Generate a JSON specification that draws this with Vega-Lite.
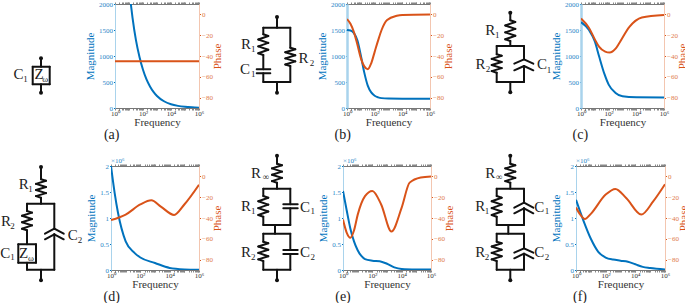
{
"$schema":"https://vega.github.io/schema/vega-lite/v6.json",
"padding":0,
"background":"white",
"config":{"view":{"stroke":null},"font":"Liberation Serif","concat":{"spacing":0}},
"datasets":{
"mag_a":[{"f":13.5,"magnitude":2000},{"f":17.8,"magnitude":1740},{"f":31.6,"magnitude":1300},{"f":56.2,"magnitude":980},{"f":100,"magnitude":735},{"f":178,"magnitude":550},{"f":316,"magnitude":415},{"f":562,"magnitude":310},{"f":1000,"magnitude":232},{"f":3160,"magnitude":130},{"f":10000,"magnitude":73},{"f":31600,"magnitude":41},{"f":100000,"magnitude":23},{"f":316000,"magnitude":13},{"f":1000000,"magnitude":7}],
"ph_a":[{"f":1,"phase":-45},{"f":1000,"phase":-45},{"f":1000000,"phase":-45}],
"mag_b":[{"f":1,"magnitude":1500},{"f":1.78,"magnitude":1490},{"f":3.16,"magnitude":1440},{"f":5.62,"magnitude":1300},{"f":10,"magnitude":1010},{"f":17.8,"magnitude":680},{"f":31.6,"magnitude":430},{"f":56.2,"magnitude":300},{"f":100,"magnitude":235},{"f":178,"magnitude":205},{"f":316,"magnitude":190},{"f":1000,"magnitude":182},{"f":10000,"magnitude":180},{"f":1000000,"magnitude":180}],
"ph_b":[{"f":1,"phase":-4.5},{"f":1.78,"phase":-9},{"f":3.16,"phase":-17},{"f":5.62,"phase":-29},{"f":10,"phase":-42},{"f":17.8,"phase":-50},{"f":31.6,"phase":-52.7},{"f":56.2,"phase":-47},{"f":100,"phase":-36},{"f":178,"phase":-25},{"f":316,"phase":-15},{"f":794,"phase":-5.4},{"f":3980,"phase":-1.3},{"f":10000,"phase":-0.5},{"f":1000000,"phase":0}],
"mag_c":[{"f":1,"magnitude":1650},{"f":3.8,"magnitude":1500},{"f":10,"magnitude":1280},{"f":20,"magnitude":1000},{"f":50,"magnitude":650},{"f":100,"magnitude":450},{"f":316,"magnitude":290},{"f":1000,"magnitude":225},{"f":10000,"magnitude":205},{"f":1000000,"magnitude":200}],
"ph_c":[{"f":1,"phase":-4},{"f":3.8,"phase":-13},{"f":10,"phase":-24},{"f":20,"phase":-31},{"f":56,"phase":-35.8},{"f":117,"phase":-36.7},{"f":316,"phase":-33},{"f":562,"phase":-28},{"f":3160,"phase":-12},{"f":25000,"phase":-3},{"f":1000000,"phase":-0.5}],
"mag_d":[{"f":1,"magnitude":2.0},{"f":1.78,"magnitude":1.48},{"f":3,"magnitude":1.1},{"f":10,"magnitude":0.55},{"f":40,"magnitude":0.33},{"f":100,"magnitude":0.24},{"f":1000,"magnitude":0.135},{"f":10000,"magnitude":0.04},{"f":100000,"magnitude":0.012},{"f":1000000,"magnitude":0.005}],
"ph_d":[{"f":1,"phase":-42},{"f":10,"phase":-36.7},{"f":100,"phase":-27},{"f":562,"phase":-23},{"f":2500,"phase":-29},{"f":20000,"phase":-37},{"f":100000,"phase":-27},{"f":1000000,"phase":-8}],
"mag_e":[{"f":1,"magnitude":1.52},{"f":1.78,"magnitude":1.15},{"f":3.16,"magnitude":0.8},{"f":5.62,"magnitude":0.55},{"f":10,"magnitude":0.38},{"f":17.8,"magnitude":0.27},{"f":31.6,"magnitude":0.21},{"f":100,"magnitude":0.18},{"f":316,"magnitude":0.17},{"f":1000,"magnitude":0.12},{"f":3160,"magnitude":0.05},{"f":10000,"magnitude":0.02},{"f":100000,"magnitude":0.01},{"f":1000000,"magnitude":0.008}],
"ph_e":[{"f":1,"phase":-41.5},{"f":1.78,"phase":-54},{"f":3.16,"phase":-59},{"f":5.62,"phase":-52},{"f":10,"phase":-37},{"f":31.6,"phase":-19},{"f":100,"phase":-14},{"f":400,"phase":-27},{"f":2000,"phase":-53},{"f":10000,"phase":-30},{"f":35000,"phase":-6},{"f":200000,"phase":-1},{"f":1000000,"phase":0}],
"mag_f":[{"f":1,"magnitude":1.35},{"f":3.16,"magnitude":0.95},{"f":10,"magnitude":0.6},{"f":31.6,"magnitude":0.35},{"f":100,"magnitude":0.24},{"f":316,"magnitude":0.2},{"f":1000,"magnitude":0.18},{"f":3160,"magnitude":0.16},{"f":10000,"magnitude":0.11},{"f":31600,"magnitude":0.06},{"f":100000,"magnitude":0.04},{"f":1000000,"magnitude":0.01}],
"ph_f":[{"f":1,"phase":-30},{"f":1.78,"phase":-36},{"f":4,"phase":-41},{"f":10,"phase":-36},{"f":100,"phase":-17.5},{"f":450,"phase":-12},{"f":2500,"phase":-21},{"f":25000,"phase":-36.7},{"f":160000,"phase":-24},{"f":1000000,"phase":-7.5}],
"wires_a":[{"x":40,"y":57.3,"x2":40,"y2":65.7},{"x":40,"y":83.3,"x2":40,"y2":91.7},{"x":31.7,"y":65.7,"x2":48.7,"y2":65.7},{"x":31.7,"y":83.3,"x2":48.7,"y2":83.3},{"x":31.7,"y":65.7,"x2":31.7,"y2":83.3},{"x":48.7,"y":65.7,"x2":48.7,"y2":83.3}],
"dots_a":[{"x":40,"y":57.3},{"x":40,"y":91.7}],
"labels_a":[{"x":17.5,"y":72.5,"text":"C","kind":"main"},{"x":24.5,"y":77.5,"text":"1","kind":"sub"},{"x":38,"y":73,"text":"Z","kind":"main"},{"x":44.3,"y":78,"text":"ω","kind":"sub"},{"x":110.7,"y":134,"text":"(a)","kind":"caption"}],
"wires_b":[{"x":276,"y":16,"x2":276,"y2":26.7},{"x":262.3,"y":26.7,"x2":289.3,"y2":26.7},{"x":262.3,"y":26.7,"x2":262.3,"y2":33.3},
{"x":262.3,"y":33.3,"x2":267.3,"y2":35},{"x":267.3,"y":35,"x2":257.3,"y2":38.5},{"x":257.3,"y":38.5,"x2":267.3,"y2":41.9},{"x":267.3,"y":41.9,"x2":257.3,"y2":45.4},{"x":257.3,"y":45.4,"x2":267.3,"y2":48.8},{"x":267.3,"y":48.8,"x2":257.3,"y2":52.3},{"x":257.3,"y":52.3,"x2":262.3,"y2":54},
{"x":262.3,"y":54,"x2":262.3,"y2":68.3},{"x":255.7,"y":68.3,"x2":269.3,"y2":68.3},{"x":255.7,"y":72.3,"x2":269.3,"y2":72.3},{"x":262.3,"y":72.3,"x2":262.3,"y2":81},{"x":289.3,"y":26.7,"x2":289.3,"y2":46.7},
{"x":289.3,"y":46.7,"x2":294.3,"y2":48.2},{"x":294.3,"y":48.2,"x2":284.3,"y2":51.3},{"x":284.3,"y":51.3,"x2":294.3,"y2":54.3},{"x":294.3,"y":54.3,"x2":284.3,"y2":57.4},{"x":284.3,"y":57.4,"x2":294.3,"y2":60.4},{"x":294.3,"y":60.4,"x2":284.3,"y2":63.5},{"x":284.3,"y":63.5,"x2":289.3,"y2":65},
{"x":289.3,"y":65,"x2":289.3,"y2":81},{"x":262.3,"y":81,"x2":289.3,"y2":81},{"x":276,"y":81,"x2":276,"y2":91.7}],
"dots_b":[{"x":276,"y":16},{"x":276,"y":91.7}],
"labels_b":[{"x":245,"y":43,"text":"R","kind":"main"},{"x":252.3,"y":48,"text":"1","kind":"sub"},{"x":302.5,"y":57,"text":"R","kind":"main"},{"x":311,"y":62,"text":"2","kind":"sub"},{"x":244,"y":68,"text":"C","kind":"main"},{"x":252.3,"y":73,"text":"1","kind":"sub"},{"x":341.7,"y":134,"text":"(b)","kind":"caption"}],
"wires_c":[{"x":509.3,"y":11.7,"x2":509.3,"y2":19.3},
{"x":509.3,"y":19.3,"x2":514.3,"y2":21},{"x":514.3,"y":21,"x2":504.3,"y2":24.5},{"x":504.3,"y":24.5,"x2":514.3,"y2":27.9},{"x":514.3,"y":27.9,"x2":504.3,"y2":31.4},{"x":504.3,"y":31.4,"x2":514.3,"y2":34.8},{"x":514.3,"y":34.8,"x2":504.3,"y2":38.3},{"x":504.3,"y":38.3,"x2":509.3,"y2":40},
{"x":509.3,"y":40,"x2":509.3,"y2":45},{"x":495.7,"y":45,"x2":523,"y2":45},{"x":495.7,"y":45,"x2":495.7,"y2":53.3},
{"x":495.7,"y":53.3,"x2":500.7,"y2":54.8},{"x":500.7,"y":54.8,"x2":490.7,"y2":57.9},{"x":490.7,"y":57.9,"x2":500.7,"y2":61},{"x":500.7,"y":61,"x2":490.7,"y2":64},{"x":490.7,"y":64,"x2":500.7,"y2":67.1},{"x":500.7,"y":67.1,"x2":490.7,"y2":70.1},{"x":490.7,"y":70.1,"x2":495.7,"y2":71.7},
{"x":495.7,"y":71.7,"x2":495.7,"y2":81},{"x":523,"y":45,"x2":523,"y2":58.3},{"x":513.3,"y":62.7,"x2":523,"y2":58.3},{"x":523,"y":58.3,"x2":532.3,"y2":62.7},{"x":513.3,"y":69.3,"x2":523,"y2":65},{"x":523,"y":65,"x2":532.3,"y2":69.3},{"x":523,"y":65,"x2":523,"y2":81},{"x":495.7,"y":81,"x2":523,"y2":81},{"x":509.3,"y":81,"x2":509.3,"y2":91.3}],
"dots_c":[{"x":509.3,"y":11.7},{"x":509.3,"y":91.3}],
"labels_c":[{"x":489.3,"y":29,"text":"R","kind":"main"},{"x":496.3,"y":33.5,"text":"1","kind":"sub"},{"x":479.5,"y":62.5,"text":"R","kind":"main"},{"x":487,"y":68,"text":"2","kind":"sub"},{"x":541,"y":63,"text":"C","kind":"main"},{"x":548,"y":68.5,"text":"1","kind":"sub"},{"x":579.3,"y":134,"text":"(c)","kind":"caption"}],
"wires_d":[{"x":40,"y":166,"x2":40,"y2":178.3},
{"x":40,"y":178.3,"x2":45,"y2":179.8},{"x":45,"y":179.8,"x2":35,"y2":182.9},{"x":35,"y":182.9,"x2":45,"y2":186},{"x":45,"y":186,"x2":35,"y2":189},{"x":35,"y":189,"x2":45,"y2":192.1},{"x":45,"y":192.1,"x2":35,"y2":195.1},{"x":35,"y":195.1,"x2":40,"y2":196.7},
{"x":40,"y":196.7,"x2":40,"y2":202.7},{"x":26,"y":202.7,"x2":53.3,"y2":202.7},{"x":26,"y":202.7,"x2":26,"y2":210},
{"x":26,"y":210,"x2":31,"y2":211.6},{"x":31,"y":211.6,"x2":21,"y2":214.8},{"x":21,"y":214.8,"x2":31,"y2":218},{"x":31,"y":218,"x2":21,"y2":221.2},{"x":21,"y":221.2,"x2":31,"y2":224.4},{"x":31,"y":224.4,"x2":21,"y2":227.7},{"x":21,"y":227.7,"x2":26,"y2":229.3},
{"x":26,"y":229.3,"x2":26,"y2":243.3},{"x":17.3,"y":243.3,"x2":35,"y2":243.3},{"x":17.3,"y":261.7,"x2":35,"y2":261.7},{"x":17.3,"y":243.3,"x2":17.3,"y2":261.7},{"x":35,"y":243.3,"x2":35,"y2":261.7},{"x":26,"y":261.7,"x2":26,"y2":268.7},
{"x":53.3,"y":202.7,"x2":53.3,"y2":227.7},{"x":44,"y":232.7,"x2":53.3,"y2":227.7},{"x":53.3,"y":227.7,"x2":62.7,"y2":232.7},{"x":44,"y":238.3,"x2":53.3,"y2":233.3},{"x":53.3,"y":233.3,"x2":62.7,"y2":238.3},{"x":53.3,"y":233.3,"x2":53.3,"y2":268.7},{"x":26,"y":268.7,"x2":53.3,"y2":268.7},{"x":40,"y":268.7,"x2":40,"y2":279.3}],
"dots_d":[{"x":40,"y":166},{"x":40,"y":279.3}],
"labels_d":[{"x":22.7,"y":183,"text":"R","kind":"main"},{"x":29.5,"y":188,"text":"1","kind":"sub"},{"x":5,"y":220,"text":"R","kind":"main"},{"x":11.5,"y":225,"text":"2","kind":"sub"},{"x":4.3,"y":251.5,"text":"C","kind":"main"},{"x":11.5,"y":255.5,"text":"1","kind":"sub"},{"x":71.7,"y":234,"text":"C","kind":"main"},{"x":79,"y":239,"text":"2","kind":"sub"},{"x":22.7,"y":251.5,"text":"Z","kind":"main"},{"x":30,"y":256.5,"text":"ω","kind":"sub"},{"x":110.7,"y":295.7,"text":"(d)","kind":"caption"}],
"wires_e":[{"x":276,"y":154.7,"x2":276,"y2":162.7},
{"x":276,"y":162.7,"x2":281,"y2":164.3},{"x":281,"y":164.3,"x2":271,"y2":167.4},{"x":271,"y":167.4,"x2":281,"y2":170.6},{"x":281,"y":170.6,"x2":271,"y2":173.8},{"x":271,"y":173.8,"x2":281,"y2":176.9},{"x":281,"y":176.9,"x2":271,"y2":180.1},{"x":271,"y":180.1,"x2":276,"y2":181.7},
{"x":276,"y":181.7,"x2":276,"y2":187.7},{"x":262.3,"y":187.7,"x2":289.3,"y2":187.7},{"x":262.3,"y":187.7,"x2":262.3,"y2":195},
{"x":262.3,"y":195,"x2":267.3,"y2":196.7},{"x":267.3,"y":196.7,"x2":257.3,"y2":200.2},{"x":257.3,"y":200.2,"x2":267.3,"y2":203.6},{"x":267.3,"y":203.6,"x2":257.3,"y2":207.1},{"x":257.3,"y":207.1,"x2":267.3,"y2":210.5},{"x":267.3,"y":210.5,"x2":257.3,"y2":214},{"x":257.3,"y":214,"x2":262.3,"y2":215.7},
{"x":262.3,"y":215.7,"x2":262.3,"y2":224},{"x":289.3,"y":187.7,"x2":289.3,"y2":203.3},{"x":282.3,"y":203.3,"x2":296.7,"y2":203.3},{"x":282.3,"y":207.3,"x2":296.7,"y2":207.3},{"x":289.3,"y":207.3,"x2":289.3,"y2":224},{"x":262.3,"y":224,"x2":289.3,"y2":224},{"x":274,"y":224,"x2":274,"y2":232.7},{"x":262.3,"y":232.7,"x2":289.3,"y2":232.7},{"x":262.3,"y":232.7,"x2":262.3,"y2":240.7},
{"x":262.3,"y":240.7,"x2":267.3,"y2":242.3},{"x":267.3,"y":242.3,"x2":257.3,"y2":245.5},{"x":257.3,"y":245.5,"x2":267.3,"y2":248.7},{"x":267.3,"y":248.7,"x2":257.3,"y2":251.9},{"x":257.3,"y":251.9,"x2":267.3,"y2":255.2},{"x":267.3,"y":255.2,"x2":257.3,"y2":258.4},{"x":257.3,"y":258.4,"x2":262.3,"y2":260},
{"x":262.3,"y":260,"x2":262.3,"y2":268.7},{"x":289.3,"y":232.7,"x2":289.3,"y2":249},{"x":282.3,"y":249,"x2":296.7,"y2":249},{"x":282.3,"y":253,"x2":296.7,"y2":253},{"x":289.3,"y":253,"x2":289.3,"y2":268.7},{"x":262.3,"y":268.7,"x2":289.3,"y2":268.7},{"x":276,"y":268.7,"x2":276,"y2":279.3}],
"dots_e":[{"x":276,"y":154.7},{"x":276,"y":279.3}],
"labels_e":[{"x":255,"y":171.5,"text":"R","kind":"main"},{"x":265,"y":176,"text":"∞","kind":"sub"},{"x":245,"y":205,"text":"R","kind":"main"},{"x":252.3,"y":209.5,"text":"1","kind":"sub"},{"x":304,"y":205.5,"text":"C","kind":"main"},{"x":311.7,"y":210,"text":"1","kind":"sub"},{"x":245,"y":250.5,"text":"R","kind":"main"},{"x":252.3,"y":255.5,"text":"2","kind":"sub"},{"x":304,"y":251,"text":"C","kind":"main"},{"x":311.7,"y":255.7,"text":"2","kind":"sub"},{"x":342,"y":295.7,"text":"(e)","kind":"caption"}],
"wires_f":[{"x":509.3,"y":154.7,"x2":509.3,"y2":162.7},
{"x":509.3,"y":162.7,"x2":514.3,"y2":164.3},{"x":514.3,"y":164.3,"x2":504.3,"y2":167.4},{"x":504.3,"y":167.4,"x2":514.3,"y2":170.6},{"x":514.3,"y":170.6,"x2":504.3,"y2":173.8},{"x":504.3,"y":173.8,"x2":514.3,"y2":176.9},{"x":514.3,"y":176.9,"x2":504.3,"y2":180.1},{"x":504.3,"y":180.1,"x2":509.3,"y2":181.7},
{"x":509.3,"y":181.7,"x2":509.3,"y2":187.7},{"x":495.7,"y":187.7,"x2":523,"y2":187.7},{"x":495.7,"y":187.7,"x2":495.7,"y2":195},
{"x":495.7,"y":195,"x2":500.7,"y2":196.7},{"x":500.7,"y":196.7,"x2":490.7,"y2":200.2},{"x":490.7,"y":200.2,"x2":500.7,"y2":203.6},{"x":500.7,"y":203.6,"x2":490.7,"y2":207.1},{"x":490.7,"y":207.1,"x2":500.7,"y2":210.5},{"x":500.7,"y":210.5,"x2":490.7,"y2":214},{"x":490.7,"y":214,"x2":495.7,"y2":215.7},
{"x":495.7,"y":215.7,"x2":495.7,"y2":224},{"x":523,"y":187.7,"x2":523,"y2":201.7},{"x":513.3,"y":206.7,"x2":523,"y2":201.7},{"x":523,"y":201.7,"x2":532.3,"y2":206.7},{"x":513.3,"y":212.3,"x2":523,"y2":207.3},{"x":523,"y":207.3,"x2":532.3,"y2":212.3},{"x":523,"y":207.3,"x2":523,"y2":224},{"x":495.7,"y":224,"x2":523,"y2":224},{"x":507.3,"y":224,"x2":507.3,"y2":232.7},{"x":495.7,"y":232.7,"x2":523,"y2":232.7},{"x":495.7,"y":232.7,"x2":495.7,"y2":240.7},
{"x":495.7,"y":240.7,"x2":500.7,"y2":242.3},{"x":500.7,"y":242.3,"x2":490.7,"y2":245.5},{"x":490.7,"y":245.5,"x2":500.7,"y2":248.7},{"x":500.7,"y":248.7,"x2":490.7,"y2":251.9},{"x":490.7,"y":251.9,"x2":500.7,"y2":255.2},{"x":500.7,"y":255.2,"x2":490.7,"y2":258.4},{"x":490.7,"y":258.4,"x2":495.7,"y2":260},
{"x":495.7,"y":260,"x2":495.7,"y2":268.7},{"x":523,"y":232.7,"x2":523,"y2":247.3},{"x":513.3,"y":251.7,"x2":523,"y2":247.3},{"x":523,"y":247.3,"x2":532.3,"y2":251.7},{"x":513.3,"y":257.3,"x2":523,"y2":252.7},{"x":523,"y":252.7,"x2":532.3,"y2":257.3},{"x":523,"y":252.7,"x2":523,"y2":268.7},{"x":495.7,"y":268.7,"x2":523,"y2":268.7},{"x":509.3,"y":268.7,"x2":509.3,"y2":279.3}],
"dots_f":[{"x":509.3,"y":154.7},{"x":509.3,"y":279.3}],
"labels_f":[{"x":489.3,"y":171.5,"text":"R","kind":"main"},{"x":498.3,"y":176,"text":"∞","kind":"sub"},{"x":479.3,"y":205,"text":"R","kind":"main"},{"x":486,"y":209.5,"text":"1","kind":"sub"},{"x":538.3,"y":205.5,"text":"C","kind":"main"},{"x":546,"y":210,"text":"1","kind":"sub"},{"x":479.3,"y":250.5,"text":"R","kind":"main"},{"x":486,"y":255.5,"text":"2","kind":"sub"},{"x":538.3,"y":251,"text":"C","kind":"main"},{"x":546,"y":255.7,"text":"2","kind":"sub"},{"x":579,"y":295.7,"text":"(f)","kind":"caption"}],
"note_d":[{"f":1,"magnitude":2,"text":"×10⁶"}]
},
"vconcat":[
{"hconcat":[
{"width":114,"height":104,"encoding":{"x":{"field":"x","type":"quantitative","axis":null,"scale":{"domain":[0,114],"nice":false,"zero":false}},"y":{"field":"y","type":"quantitative","axis":null,"scale":{"domain":[3,107],"reverse":true,"nice":false,"zero":false}}},"layer":[
{"data":{"name":"wires_a"},"mark":{"type":"rule","color":"#111111","strokeWidth":2,"strokeCap":"round"},"encoding":{"x2":{"field":"x2"},"y2":{"field":"y2"}}},
{"data":{"name":"dots_a"},"mark":{"type":"point","filled":true,"color":"#111111","size":16,"opacity":1}},
{"data":{"name":"labels_a"},"transform":[{"filter":"datum.kind=='main'"}],"mark":{"type":"text","fontSize":15,"color":"#222222"},"encoding":{"text":{"field":"text"}}},
{"data":{"name":"labels_a"},"transform":[{"filter":"datum.kind=='sub'"}],"mark":{"type":"text","fontSize":9,"color":"#222222"},"encoding":{"text":{"field":"text"}}},
{"data":{"name":"labels_a"},"transform":[{"filter":"datum.kind=='caption'"}],"mark":{"type":"text","fontSize":14,"color":"#222222"},"encoding":{"text":{"field":"text"}}}
]},
{"width":84,"height":104,"resolve":{"scale":{"y":"independent"}},"layer":[
{"data":{"name":"mag_a"},"mark":{"type":"line","color":"#0072BD","strokeWidth":2,"interpolate":"monotone","clip":true},"encoding":{"x":{"field":"f","type":"quantitative","scale":{"type":"log","domain":[1,1000000],"nice":false},"axis":{"orient":"bottom","title":"Frequency","titleFontSize":11,"titleFontWeight":"normal","titleColor":"#333333","titlePadding":0,"labelFontSize":7,"labelColor":"#333333","labelPadding":-1,"labelOverlap":false,"labelFlush":false,"grid":false,"tickCount":60,"tickSize":2,"tickColor":"#888888","domainColor":"#777777","labelExpr":"datum.value==1?'10⁰':datum.value==100?'10²':datum.value==10000?'10⁴':datum.value==1000000?'10⁶':''"}},"y":{"field":"magnitude","type":"quantitative","scale":{"domain":[0,2000],"nice":false},"axis":{"orient":"left","title":"Magnitude","titleFontSize":11,"titleFontWeight":"normal","titleColor":"#0072BD","titlePadding":3,"labelFontSize":7,"labelColor":"#2a86c8","labelPadding":1,"values":[0,500,1000,1500,2000],"format":"d","grid":false,"tickSize":1.5,"tickColor":"#0072BD","domainColor":"#a9d3ec","domainWidth":1}}}},
{"data":{"name":"ph_a"},"mark":{"type":"line","color":"#D95319","strokeWidth":2,"interpolate":"monotone","clip":true},"encoding":{"x":{"field":"f","type":"quantitative","axis":{"orient":"top","title":null,"labels":false,"grid":false,"tickCount":60,"tickSize":2,"tickColor":"#888888","domainColor":"#777777"}},"y":{"field":"phase","type":"quantitative","scale":{"domain":[-90,10],"nice":false},"axis":{"orient":"right","title":"Phase","titleAngle":270,"titleBaseline":"bottom","titleFontSize":11,"titleFontWeight":"normal","titleColor":"#D95319","titlePadding":10,"labelFontSize":7,"labelColor":"#e07a4a","labelPadding":1,"values":[0,-20,-40,-60,-80],"grid":false,"tickSize":1.5,"tickColor":"#D95319","domainColor":"#f3c6b0","domainWidth":1}}}}
]},
{"width":148,"height":104,"encoding":{"x":{"field":"x","type":"quantitative","axis":null,"scale":{"domain":[198,346],"nice":false,"zero":false}},"y":{"field":"y","type":"quantitative","axis":null,"scale":{"domain":[3,107],"reverse":true,"nice":false,"zero":false}}},"layer":[
{"data":{"name":"wires_b"},"mark":{"type":"rule","color":"#111111","strokeWidth":2,"strokeCap":"round"},"encoding":{"x2":{"field":"x2"},"y2":{"field":"y2"}}},
{"data":{"name":"dots_b"},"mark":{"type":"point","filled":true,"color":"#111111","size":16,"opacity":1}},
{"data":{"name":"labels_b"},"transform":[{"filter":"datum.kind=='main'"}],"mark":{"type":"text","fontSize":15,"color":"#222222"},"encoding":{"text":{"field":"text"}}},
{"data":{"name":"labels_b"},"transform":[{"filter":"datum.kind=='sub'"}],"mark":{"type":"text","fontSize":9,"color":"#222222"},"encoding":{"text":{"field":"text"}}},
{"data":{"name":"labels_b"},"transform":[{"filter":"datum.kind=='caption'"}],"mark":{"type":"text","fontSize":14,"color":"#222222"},"encoding":{"text":{"field":"text"}}}
]},
{"width":83,"height":104,"resolve":{"scale":{"y":"independent"}},"layer":[
{"data":{"name":"mag_b"},"mark":{"type":"line","color":"#0072BD","strokeWidth":2,"interpolate":"monotone","clip":true},"encoding":{"x":{"field":"f","type":"quantitative","scale":{"type":"log","domain":[1,1000000],"nice":false},"axis":{"orient":"bottom","title":"Frequency","titleFontSize":11,"titleFontWeight":"normal","titleColor":"#333333","titlePadding":0,"labelFontSize":7,"labelColor":"#333333","labelPadding":-1,"labelOverlap":false,"labelFlush":false,"grid":false,"tickCount":60,"tickSize":2,"tickColor":"#888888","domainColor":"#777777","labelExpr":"datum.value==1?'10⁰':datum.value==100?'10²':datum.value==10000?'10⁴':datum.value==1000000?'10⁶':''"}},"y":{"field":"magnitude","type":"quantitative","scale":{"domain":[0,2000],"nice":false},"axis":{"orient":"left","title":"Magnitude","titleFontSize":11,"titleFontWeight":"normal","titleColor":"#0072BD","titlePadding":3,"labelFontSize":7,"labelColor":"#2a86c8","labelPadding":1,"values":[0,500,1000,1500,2000],"format":"d","grid":false,"tickSize":1.5,"tickColor":"#0072BD","domainColor":"#a9d3ec","domainWidth":2.5}}}},
{"data":{"name":"ph_b"},"mark":{"type":"line","color":"#D95319","strokeWidth":2,"interpolate":"monotone","clip":true},"encoding":{"x":{"field":"f","type":"quantitative","axis":{"orient":"top","title":null,"labels":false,"grid":false,"tickCount":60,"tickSize":2,"tickColor":"#888888","domainColor":"#777777"}},"y":{"field":"phase","type":"quantitative","scale":{"domain":[-90,10],"nice":false},"axis":{"orient":"right","title":"Phase","titleAngle":270,"titleBaseline":"bottom","titleFontSize":11,"titleFontWeight":"normal","titleColor":"#D95319","titlePadding":10,"labelFontSize":7,"labelColor":"#e07a4a","labelPadding":1,"values":[0,-20,-40,-60,-80],"grid":false,"tickSize":1.5,"tickColor":"#D95319","domainColor":"#f3c6b0","domainWidth":1}}}}
]},
{"width":151,"height":104,"encoding":{"x":{"field":"x","type":"quantitative","axis":null,"scale":{"domain":[429,580],"nice":false,"zero":false}},"y":{"field":"y","type":"quantitative","axis":null,"scale":{"domain":[3,107],"reverse":true,"nice":false,"zero":false}}},"layer":[
{"data":{"name":"wires_c"},"mark":{"type":"rule","color":"#111111","strokeWidth":2,"strokeCap":"round"},"encoding":{"x2":{"field":"x2"},"y2":{"field":"y2"}}},
{"data":{"name":"dots_c"},"mark":{"type":"point","filled":true,"color":"#111111","size":16,"opacity":1}},
{"data":{"name":"labels_c"},"transform":[{"filter":"datum.kind=='main'"}],"mark":{"type":"text","fontSize":15,"color":"#222222"},"encoding":{"text":{"field":"text"}}},
{"data":{"name":"labels_c"},"transform":[{"filter":"datum.kind=='sub'"}],"mark":{"type":"text","fontSize":9,"color":"#222222"},"encoding":{"text":{"field":"text"}}},
{"data":{"name":"labels_c"},"transform":[{"filter":"datum.kind=='caption'"}],"mark":{"type":"text","fontSize":14,"color":"#222222"},"encoding":{"text":{"field":"text"}}}
]},
{"width":83,"height":104,"resolve":{"scale":{"y":"independent"}},"layer":[
{"data":{"name":"mag_c"},"mark":{"type":"line","color":"#0072BD","strokeWidth":2,"interpolate":"monotone","clip":true},"encoding":{"x":{"field":"f","type":"quantitative","scale":{"type":"log","domain":[1,1000000],"nice":false},"axis":{"orient":"bottom","title":"Frequency","titleFontSize":11,"titleFontWeight":"normal","titleColor":"#333333","titlePadding":0,"labelFontSize":7,"labelColor":"#333333","labelPadding":-1,"labelOverlap":false,"labelFlush":false,"grid":false,"tickCount":60,"tickSize":2,"tickColor":"#888888","domainColor":"#777777","labelExpr":"datum.value==1?'10⁰':datum.value==100?'10²':datum.value==10000?'10⁴':datum.value==1000000?'10⁶':''"}},"y":{"field":"magnitude","type":"quantitative","scale":{"domain":[0,2000],"nice":false},"axis":{"orient":"left","title":"Magnitude","titleFontSize":11,"titleFontWeight":"normal","titleColor":"#0072BD","titlePadding":3,"labelFontSize":7,"labelColor":"#2a86c8","labelPadding":1,"values":[0,500,1000,1500,2000],"format":"d","grid":false,"tickSize":1.5,"tickColor":"#0072BD","domainColor":"#a9d3ec","domainWidth":2.5}}}},
{"data":{"name":"ph_c"},"mark":{"type":"line","color":"#D95319","strokeWidth":2,"interpolate":"monotone","clip":true},"encoding":{"x":{"field":"f","type":"quantitative","axis":{"orient":"top","title":null,"labels":false,"grid":false,"tickCount":60,"tickSize":2,"tickColor":"#888888","domainColor":"#777777"}},"y":{"field":"phase","type":"quantitative","scale":{"domain":[-90,10],"nice":false},"axis":{"orient":"right","title":"Phase","titleAngle":270,"titleBaseline":"bottom","titleFontSize":11,"titleFontWeight":"normal","titleColor":"#D95319","titlePadding":10,"labelFontSize":7,"labelColor":"#e07a4a","labelPadding":1,"values":[0,-20,-40,-60,-80],"grid":false,"tickSize":1.5,"tickColor":"#D95319","domainColor":"#f3c6b0","domainWidth":1}}}}
]}
],"bounds":"flush","spacing":0},
{"hconcat":[
{"width":110,"height":104,"encoding":{"x":{"field":"x","type":"quantitative","axis":null,"scale":{"domain":[0,110],"nice":false,"zero":false}},"y":{"field":"y","type":"quantitative","axis":null,"scale":{"domain":[165,269],"reverse":true,"nice":false,"zero":false}}},"layer":[
{"data":{"name":"wires_d"},"mark":{"type":"rule","color":"#111111","strokeWidth":2,"strokeCap":"round"},"encoding":{"x2":{"field":"x2"},"y2":{"field":"y2"}}},
{"data":{"name":"dots_d"},"mark":{"type":"point","filled":true,"color":"#111111","size":16,"opacity":1}},
{"data":{"name":"labels_d"},"transform":[{"filter":"datum.kind=='main'"}],"mark":{"type":"text","fontSize":15,"color":"#222222"},"encoding":{"text":{"field":"text"}}},
{"data":{"name":"labels_d"},"transform":[{"filter":"datum.kind=='sub'"}],"mark":{"type":"text","fontSize":9,"color":"#222222"},"encoding":{"text":{"field":"text"}}},
{"data":{"name":"labels_d"},"transform":[{"filter":"datum.kind=='caption'"}],"mark":{"type":"text","fontSize":14,"color":"#222222"},"encoding":{"text":{"field":"text"}}}
]},
{"width":88,"height":104,"resolve":{"scale":{"y":"independent"}},"layer":[
{"data":{"name":"mag_d"},"mark":{"type":"line","color":"#0072BD","strokeWidth":2,"interpolate":"monotone","clip":true},"encoding":{"x":{"field":"f","type":"quantitative","scale":{"type":"log","domain":[1,1000000],"nice":false},"axis":{"orient":"bottom","title":"Frequency","titleFontSize":11,"titleFontWeight":"normal","titleColor":"#333333","titlePadding":0,"labelFontSize":7,"labelColor":"#333333","labelPadding":-1,"labelOverlap":false,"labelFlush":false,"grid":false,"tickCount":60,"tickSize":2,"tickColor":"#888888","domainColor":"#777777","labelExpr":"datum.value==1?'10⁰':datum.value==100?'10²':datum.value==10000?'10⁴':datum.value==1000000?'10⁶':''"}},"y":{"field":"magnitude","type":"quantitative","scale":{"domain":[0,2],"nice":false},"axis":{"orient":"left","title":"Magnitude","titleFontSize":11,"titleFontWeight":"normal","titleColor":"#0072BD","titlePadding":3,"labelFontSize":7,"labelColor":"#2a86c8","labelPadding":1,"values":[0,0.5,1,1.5,2],"format":"~g","grid":false,"tickSize":1.5,"tickColor":"#0072BD","domainColor":"#a9d3ec","domainWidth":1}}}},
{"data":{"name":"ph_d"},"mark":{"type":"line","color":"#D95319","strokeWidth":2,"interpolate":"monotone","clip":true},"encoding":{"x":{"field":"f","type":"quantitative","axis":{"orient":"top","title":null,"labels":false,"grid":false,"tickCount":60,"tickSize":2,"tickColor":"#888888","domainColor":"#777777"}},"y":{"field":"phase","type":"quantitative","scale":{"domain":[-90,10],"nice":false},"axis":{"orient":"right","title":"Phase","titleAngle":270,"titleBaseline":"bottom","titleFontSize":11,"titleFontWeight":"normal","titleColor":"#D95319","titlePadding":10,"labelFontSize":7,"labelColor":"#e07a4a","labelPadding":1,"values":[0,-20,-40,-60,-80],"grid":false,"tickSize":1.5,"tickColor":"#D95319","domainColor":"#f3c6b0","domainWidth":1}}}},
{"data":{"name":"note_d"},"mark":{"type":"text","align":"left","dy":-5,"fontSize":7,"color":"#2a86c8"},"encoding":{"x":{"field":"f","type":"quantitative","axis":null},"y":{"field":"magnitude","type":"quantitative","scale":{"domain":[0,2],"nice":false},"axis":null},"text":{"field":"text"}}}
]},
{"width":144,"height":104,"encoding":{"x":{"field":"x","type":"quantitative","axis":null,"scale":{"domain":[198,342],"nice":false,"zero":false}},"y":{"field":"y","type":"quantitative","axis":null,"scale":{"domain":[165,269],"reverse":true,"nice":false,"zero":false}}},"layer":[
{"data":{"name":"wires_e"},"mark":{"type":"rule","color":"#111111","strokeWidth":2,"strokeCap":"round"},"encoding":{"x2":{"field":"x2"},"y2":{"field":"y2"}}},
{"data":{"name":"dots_e"},"mark":{"type":"point","filled":true,"color":"#111111","size":16,"opacity":1}},
{"data":{"name":"labels_e"},"transform":[{"filter":"datum.kind=='main'"}],"mark":{"type":"text","fontSize":15,"color":"#222222"},"encoding":{"text":{"field":"text"}}},
{"data":{"name":"labels_e"},"transform":[{"filter":"datum.kind=='sub'"}],"mark":{"type":"text","fontSize":9,"color":"#222222"},"encoding":{"text":{"field":"text"}}},
{"data":{"name":"labels_e"},"transform":[{"filter":"datum.kind=='caption'"}],"mark":{"type":"text","fontSize":14,"color":"#222222"},"encoding":{"text":{"field":"text"}}}
]},
{"width":88,"height":104,"resolve":{"scale":{"y":"independent"}},"layer":[
{"data":{"name":"mag_e"},"mark":{"type":"line","color":"#0072BD","strokeWidth":2,"interpolate":"monotone","clip":true},"encoding":{"x":{"field":"f","type":"quantitative","scale":{"type":"log","domain":[1,1000000],"nice":false},"axis":{"orient":"bottom","title":"Frequency","titleFontSize":11,"titleFontWeight":"normal","titleColor":"#333333","titlePadding":0,"labelFontSize":7,"labelColor":"#333333","labelPadding":-1,"labelOverlap":false,"labelFlush":false,"grid":false,"tickCount":60,"tickSize":2,"tickColor":"#888888","domainColor":"#777777","labelExpr":"datum.value==1?'10⁰':datum.value==100?'10²':datum.value==10000?'10⁴':datum.value==1000000?'10⁶':''"}},"y":{"field":"magnitude","type":"quantitative","scale":{"domain":[0,2],"nice":false},"axis":{"orient":"left","title":"Magnitude","titleFontSize":11,"titleFontWeight":"normal","titleColor":"#0072BD","titlePadding":3,"labelFontSize":7,"labelColor":"#2a86c8","labelPadding":1,"values":[0,0.5,1,1.5,2],"format":"~g","grid":false,"tickSize":1.5,"tickColor":"#0072BD","domainColor":"#a9d3ec","domainWidth":1}}}},
{"data":{"name":"ph_e"},"mark":{"type":"line","color":"#D95319","strokeWidth":2,"interpolate":"monotone","clip":true},"encoding":{"x":{"field":"f","type":"quantitative","axis":{"orient":"top","title":null,"labels":false,"grid":false,"tickCount":60,"tickSize":2,"tickColor":"#888888","domainColor":"#777777"}},"y":{"field":"phase","type":"quantitative","scale":{"domain":[-90,10],"nice":false},"axis":{"orient":"right","title":"Phase","titleAngle":270,"titleBaseline":"bottom","titleFontSize":11,"titleFontWeight":"normal","titleColor":"#D95319","titlePadding":10,"labelFontSize":7,"labelColor":"#e07a4a","labelPadding":1,"values":[0,-20,-40,-60,-80],"grid":false,"tickSize":1.5,"tickColor":"#D95319","domainColor":"#f3c6b0","domainWidth":1}}}},
{"data":{"name":"note_d"},"mark":{"type":"text","align":"left","dy":-5,"fontSize":7,"color":"#2a86c8"},"encoding":{"x":{"field":"f","type":"quantitative","axis":null},"y":{"field":"magnitude","type":"quantitative","scale":{"domain":[0,2],"nice":false},"axis":null},"text":{"field":"text"}}}
]},
{"width":145,"height":104,"encoding":{"x":{"field":"x","type":"quantitative","axis":null,"scale":{"domain":[430,575],"nice":false,"zero":false}},"y":{"field":"y","type":"quantitative","axis":null,"scale":{"domain":[165,269],"reverse":true,"nice":false,"zero":false}}},"layer":[
{"data":{"name":"wires_f"},"mark":{"type":"rule","color":"#111111","strokeWidth":2,"strokeCap":"round"},"encoding":{"x2":{"field":"x2"},"y2":{"field":"y2"}}},
{"data":{"name":"dots_f"},"mark":{"type":"point","filled":true,"color":"#111111","size":16,"opacity":1}},
{"data":{"name":"labels_f"},"transform":[{"filter":"datum.kind=='main'"}],"mark":{"type":"text","fontSize":15,"color":"#222222"},"encoding":{"text":{"field":"text"}}},
{"data":{"name":"labels_f"},"transform":[{"filter":"datum.kind=='sub'"}],"mark":{"type":"text","fontSize":9,"color":"#222222"},"encoding":{"text":{"field":"text"}}},
{"data":{"name":"labels_f"},"transform":[{"filter":"datum.kind=='caption'"}],"mark":{"type":"text","fontSize":14,"color":"#222222"},"encoding":{"text":{"field":"text"}}}
]},
{"width":89,"height":104,"resolve":{"scale":{"y":"independent"}},"layer":[
{"data":{"name":"mag_f"},"mark":{"type":"line","color":"#0072BD","strokeWidth":2,"interpolate":"monotone","clip":true},"encoding":{"x":{"field":"f","type":"quantitative","scale":{"type":"log","domain":[1,1000000],"nice":false},"axis":{"orient":"bottom","title":"Frequency","titleFontSize":11,"titleFontWeight":"normal","titleColor":"#333333","titlePadding":0,"labelFontSize":7,"labelColor":"#333333","labelPadding":-1,"labelOverlap":false,"labelFlush":false,"grid":false,"tickCount":60,"tickSize":2,"tickColor":"#888888","domainColor":"#777777","labelExpr":"datum.value==1?'10⁰':datum.value==100?'10²':datum.value==10000?'10⁴':datum.value==1000000?'10⁶':''"}},"y":{"field":"magnitude","type":"quantitative","scale":{"domain":[0,2],"nice":false},"axis":{"orient":"left","title":"Magnitude","titleFontSize":11,"titleFontWeight":"normal","titleColor":"#0072BD","titlePadding":3,"labelFontSize":7,"labelColor":"#2a86c8","labelPadding":1,"values":[0,0.5,1,1.5,2],"format":"~g","grid":false,"tickSize":1.5,"tickColor":"#0072BD","domainColor":"#a9d3ec","domainWidth":1}}}},
{"data":{"name":"ph_f"},"mark":{"type":"line","color":"#D95319","strokeWidth":2,"interpolate":"monotone","clip":true},"encoding":{"x":{"field":"f","type":"quantitative","axis":{"orient":"top","title":null,"labels":false,"grid":false,"tickCount":60,"tickSize":2,"tickColor":"#888888","domainColor":"#777777"}},"y":{"field":"phase","type":"quantitative","scale":{"domain":[-90,10],"nice":false},"axis":{"orient":"right","title":"Phase","titleAngle":270,"titleBaseline":"bottom","titleFontSize":11,"titleFontWeight":"normal","titleColor":"#D95319","titlePadding":10,"labelFontSize":7,"labelColor":"#e07a4a","labelPadding":1,"values":[0,-20,-40,-60,-80],"grid":false,"tickSize":1.5,"tickColor":"#D95319","domainColor":"#f3c6b0","domainWidth":1}}}},
{"data":{"name":"note_d"},"mark":{"type":"text","align":"left","dy":-5,"fontSize":7,"color":"#2a86c8"},"encoding":{"x":{"field":"f","type":"quantitative","axis":null},"y":{"field":"magnitude","type":"quantitative","scale":{"domain":[0,2],"nice":false},"axis":null},"text":{"field":"text"}}}
]}
],"bounds":"flush","spacing":0}
],
"bounds":"flush",
"spacing":162
}
